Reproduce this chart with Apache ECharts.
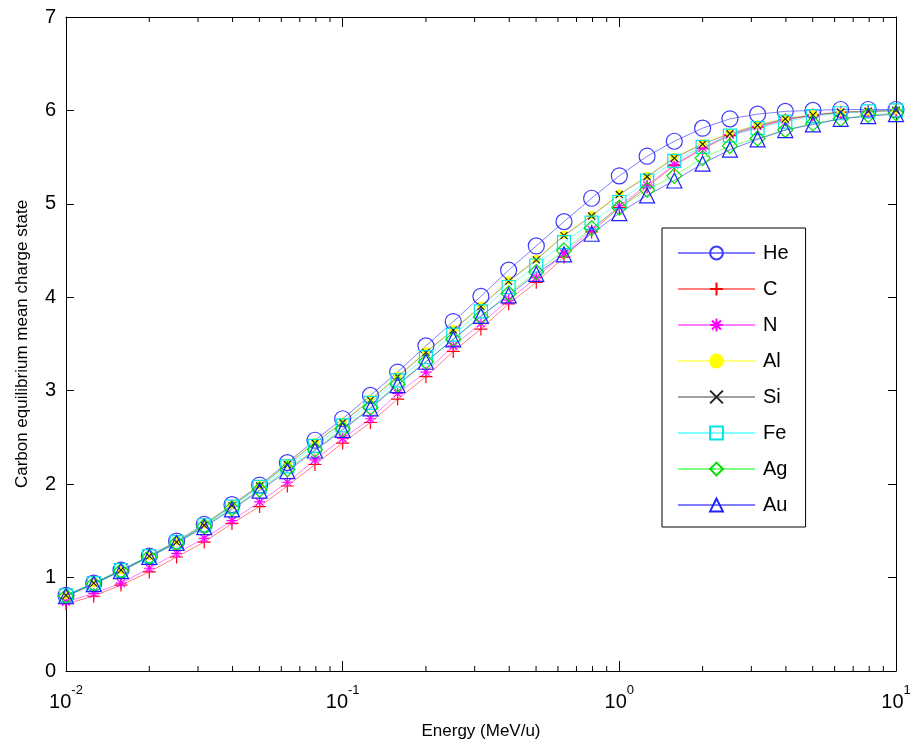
<!DOCTYPE html>
<html>
<head>
<meta charset="utf-8">
<script src="https://cdn.jsdelivr.net/npm/echarts@6/dist/echarts.min.js"></script>
<style>
html,body{margin:0;padding:0;background:#fff;}
#chart{width:914px;height:749px;}
</style>
</head>
<body>
<div id="chart"></div>
<script>
// Energy grid (MeV/u), 10 points per decade
const energy = [0.01,0.0126,0.0158,0.02,0.0251,0.0316,0.0398,0.0501,0.0631,0.0794,
  0.1,0.126,0.158,0.2,0.251,0.316,0.398,0.501,0.631,0.794,
  1,1.26,1.58,2,2.51,3.16,3.98,5.01,6.31,7.94,10];

const He = [0.81,0.94,1.08,1.23,1.39,1.57,1.78,1.99,2.23,2.47,2.70,2.95,3.20,3.48,3.74,4.01,4.29,4.55,4.81,5.06,5.30,5.51,5.67,5.81,5.91,5.96,5.99,6.00,6.01,6.01,6.01];
const C  = [0.72,0.80,0.92,1.06,1.22,1.38,1.58,1.76,1.98,2.21,2.44,2.66,2.91,3.15,3.42,3.66,3.93,4.16,4.43,4.70,4.96,5.18,5.41,5.59,5.73,5.82,5.90,5.95,5.98,5.99,6.00];
const N  = [0.74,0.83,0.94,1.10,1.26,1.42,1.61,1.81,2.02,2.26,2.49,2.70,2.97,3.20,3.48,3.72,3.97,4.21,4.47,4.72,4.98,5.20,5.42,5.60,5.74,5.83,5.90,5.95,5.98,5.99,6.00];
const Al = [0.81,0.94,1.08,1.23,1.39,1.57,1.78,1.99,2.22,2.45,2.67,2.91,3.16,3.42,3.66,3.91,4.18,4.41,4.67,4.88,5.11,5.30,5.50,5.65,5.76,5.85,5.91,5.96,5.98,5.99,6.00];
const Si = [0.81,0.94,1.08,1.23,1.38,1.56,1.77,1.98,2.21,2.44,2.66,2.90,3.15,3.41,3.65,3.90,4.17,4.40,4.66,4.87,5.10,5.29,5.49,5.64,5.75,5.84,5.91,5.95,5.98,5.99,6.00];
const Fe = [0.81,0.94,1.08,1.23,1.38,1.56,1.76,1.97,2.19,2.41,2.63,2.87,3.11,3.36,3.60,3.85,4.11,4.34,4.59,4.80,5.02,5.25,5.46,5.61,5.73,5.81,5.88,5.94,5.97,5.99,6.00];
const Ag = [0.80,0.93,1.07,1.22,1.37,1.55,1.74,1.94,2.16,2.37,2.59,2.82,3.07,3.31,3.55,3.79,4.04,4.27,4.50,4.74,4.96,5.15,5.30,5.49,5.62,5.70,5.79,5.86,5.91,5.95,5.97];
const Au = [0.80,0.93,1.07,1.22,1.37,1.54,1.73,1.93,2.14,2.36,2.58,2.81,3.06,3.31,3.55,3.80,4.02,4.25,4.46,4.68,4.90,5.09,5.25,5.43,5.58,5.69,5.79,5.85,5.91,5.94,5.96];

const seriesNames = ['He','C','N','Al','Si','Fe','Ag','Au'];
const minorTicks = [0.02,0.03,0.04,0.05,0.06,0.07,0.08,0.09,
  0.2,0.3,0.4,0.5,0.6,0.7,0.8,0.9, 2,3,4,5,6,7,8,9];
const yTicks = [0,1,2,3,4,5,6,7];

const FONT = '"Liberation Sans", Arial, sans-serif';
const pair = arr => energy.map((e,i)=>[e, arr[i]]);

const styles = {
  He: {color:'#0000ff', symbol:'circle', size:16, fill:'none', border:'#3b3bff'},
  C:  {color:'#ff0000', symbol:'path://M0,5L10,5M5,0L5,10', size:13, fill:'none', border:'#ff0000'},
  N:  {color:'#ff00ff', symbol:'path://M5,0L5,10M0,5L10,5M1.5,1.5L8.5,8.5M1.5,8.5L8.5,1.5', size:11, fill:'none', border:'#ff00ff'},
  Al: {color:'#ffff00', symbol:'circle', size:7, fill:'#ffff00', border:'#ffff00'},
  Si: {color:'#444444', symbol:'path://M0,0L10,10M0,10L10,0', size:7, fill:'none', border:'#222222'},
  Fe: {color:'#00ffff', symbol:'rect', size:13, fill:'none', border:'#00e5e5'},
  Ag: {color:'#00ff00', symbol:'diamond', size:15, fill:'none', border:'#00e000'},
  Au: {color:'#0000ff', symbol:'triangle', size:15, fill:'none', border:'#2020ff'}
};
const dataMap = {He, C, N, Al, Si, Fe, Ag, Au};

const lineSeries = seriesNames.map(name => {
  const s = styles[name];
  return {
    name, type:'line', data: pair(dataMap[name]),
    symbol: s.symbol, symbolSize: s.size, symbolKeepAspect: true,
    showAllSymbol: true,
    lineStyle: {color: s.color, width: 1, opacity: 0.5},
    itemStyle: {color: s.fill, borderColor: s.border, borderWidth: 1.2},
    emphasis: {disabled: true},
    z: 3
  };
});

const minorSeries = {
  type: 'custom', name: 'minor', silent: true, clip: false,
  data: minorTicks.map(v => [v, 0]),
  renderItem: function(params, api){
    const x = api.coord([api.value(0), 0])[0];
    const cs = params.coordSys;
    const top = cs.y, bottom = cs.y + cs.height;
    const st = {stroke:'#000', lineWidth:1};
    return {type:'group', children:[
      {type:'line', shape:{x1:x, y1:bottom, x2:x, y2:bottom-5}, style:st},
      {type:'line', shape:{x1:x, y1:top, x2:x, y2:top+5}, style:st}
    ]};
  },
  z: 5
};

const chart = echarts.init(document.getElementById('chart'), null, {renderer:'canvas'});
const axisCommon = {
  axisLine: {show:true, onZero:false, lineStyle:{color:'#000', width:1}},
  splitLine: {show:false}
};
chart.setOption({
  animation: false,
  backgroundColor: '#fff',
  textStyle: {fontFamily: FONT},
  grid: {left: 66, right: 18, top: 17, bottom: 78, containLabel: false},
  xAxis: [{
    ...axisCommon,
    type: 'log', logBase: 10, min: 0.01, max: 10, position: 'bottom',
    axisTick: {show:true, inside:true, length:10, lineStyle:{color:'#000'}},
    axisLabel: {
      margin: 13, color:'#000',
      formatter: function(v){
        const e = Math.round(Math.log10(v));
        return '{a|10}{b|' + e + '}';
      },
      rich: {
        a: {fontSize: 20, fontFamily: FONT, color:'#000'},
        b: {fontSize: 13, fontFamily: FONT, color:'#000', padding:[0,0,24,0]}
      }
    },
    name: 'Energy (MeV/u)', nameLocation: 'middle', nameGap: 52,
    nameTextStyle: {fontSize: 17, color:'#000', fontFamily: FONT}
  },{
    ...axisCommon,
    type: 'log', logBase: 10, min: 0.01, max: 10, position: 'top',
    axisTick: {show:true, inside:true, length:10, lineStyle:{color:'#000'}},
    axisLabel: {show:false}
  }],
  yAxis: [{
    ...axisCommon,
    type: 'value', min: 0, max: 7, interval: 1, position: 'left',
    axisTick: {show:true, inside:true, length:8, lineStyle:{color:'#000'}},
    axisLabel: {fontSize: 20, color:'#000', margin: 10, fontFamily: FONT,
      formatter: v => yTicks.includes(v) ? String(v) : ''},
    name: 'Carbon equilibrium mean charge state', nameLocation: 'middle', nameGap: 35,
    nameTextStyle: {fontSize: 17, color:'#000', fontFamily: FONT}
  },{
    ...axisCommon,
    type: 'value', min: 0, max: 7, interval: 1, position: 'right',
    axisTick: {show:true, inside:true, length:8, lineStyle:{color:'#000'}},
    axisLabel: {show:false}
  }],
  legend: {
    data: seriesNames,
    orient: 'vertical',
    left: 662, top: 228,
    padding: [15, 17, 12, 15],
    itemWidth: 77, itemHeight: 16, itemGap: 16,
    backgroundColor: '#fff',
    borderColor: '#000', borderWidth: 1,
    selectedMode: false,
    textStyle: {fontSize: 20, color:'#000', fontFamily: FONT, padding:[0,0,0,3]}
  },
  series: [...lineSeries, minorSeries]
});
</script>
</body>
</html>
